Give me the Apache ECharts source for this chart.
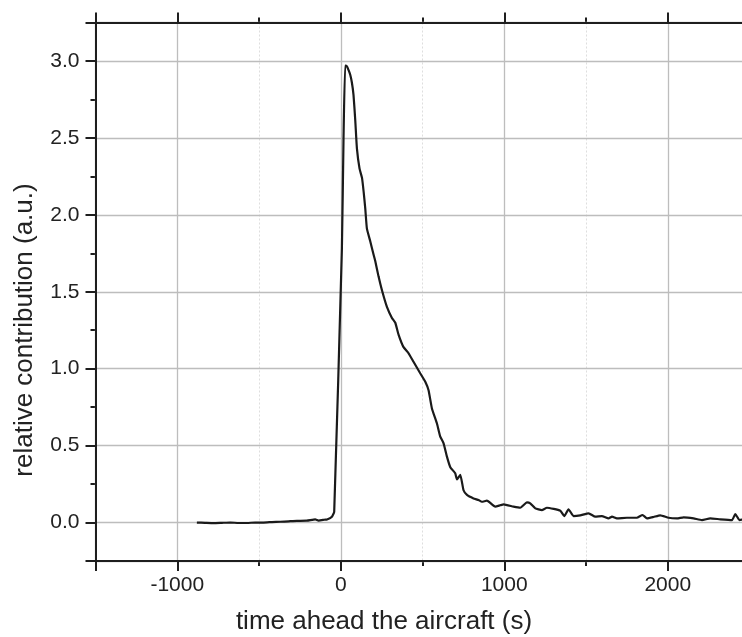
<!DOCTYPE html>
<html>
<head>
<meta charset="utf-8">
<script src="https://cdn.jsdelivr.net/npm/echarts@6/dist/echarts.min.js"></script>
<style>
html,body{margin:0;padding:0;background:#fff;}
#chart{width:742px;height:637px;}
</style>
</head>
<body>
<div id="chart"></div>
<script>
// time ahead the aircraft (s)
const times = [-880, -830, -778, -727, -676, -625, -574, -523, -472, -421, -370, -319, -268, -207, -156, -136, -100, -84, -54, -40,
  7, 17, 27, 38, 48, 58, 68, 78, 89, 99, 115, 130, 140, 150, 160, 180, 201, 211, 231, 252, 283, 313, 333, 354, 384, 415, 445,
  486, 517, 537, 558, 588, 608, 629, 649, 670, 700, 711, 731, 751, 772, 812, 843, 863, 894, 945, 975, 996, 1057, 1098, 1139,
  1159, 1190, 1230, 1261, 1343, 1367, 1393, 1424, 1465, 1516, 1557, 1597, 1638, 1659, 1689, 1750, 1811, 1846, 1873, 1913,
  1954, 2005, 2056, 2097, 2158, 2209, 2260, 2321, 2393, 2413, 2439, 2460];
// relative contribution (a.u.)
const contribution = [0.000, -0.002, -0.004, -0.002, 0.000, -0.003, -0.003, 0.000, 0.000, 0.003, 0.005, 0.008, 0.011, 0.012, 0.020, 0.013, 0.018, 0.020, 0.038, 0.07,
  1.78, 2.50, 2.97, 2.965, 2.94, 2.91, 2.86, 2.78, 2.61, 2.43, 2.30, 2.24, 2.15, 2.04, 1.91, 1.83, 1.74, 1.70, 1.60, 1.51, 1.40, 1.33, 1.30, 1.22, 1.14, 1.10, 1.045,
  0.97, 0.915, 0.86, 0.74, 0.645, 0.56, 0.515, 0.43, 0.36, 0.32, 0.28, 0.31, 0.21, 0.18, 0.157, 0.146, 0.135, 0.142, 0.103, 0.112, 0.118, 0.103, 0.096, 0.131,
  0.125, 0.092, 0.081, 0.096, 0.077, 0.042, 0.086, 0.042, 0.047, 0.060, 0.038, 0.042, 0.027, 0.038, 0.027, 0.031, 0.031, 0.049, 0.027, 0.036,
  0.047, 0.031, 0.027, 0.034, 0.027, 0.016, 0.027, 0.021, 0.016, 0.055, 0.016, 0.020];

const xRange = [-1500, 2500];
const yRange = [-0.25, 3.25];
const xTitle = 'time ahead the aircraft (s)';
const yTitle = 'relative contribution (a.u.)';

const FONT = '"Liberation Sans", Arial, sans-serif';
const TXT = '#222';
const AX = '#1e1e1e';

const chart = echarts.init(document.getElementById('chart'), null, {renderer: 'canvas'});

const data = times.map((t, i) => [t, contribution[i]]);

function baseX(extra) {
  return Object.assign({
    type: 'value', min: xRange[0], max: xRange[1],
    axisLine: {show: false, onZero: false}, axisLabel: {show: false}, splitLine: {show: false},
    axisTick: {show: false}
  }, extra);
}
function baseY(extra) {
  return Object.assign({
    type: 'value', min: yRange[0], max: yRange[1],
    axisLine: {show: false, onZero: false}, axisLabel: {show: false}, splitLine: {show: false},
    axisTick: {show: false}
  }, extra);
}

chart.setOption({
  animation: false,
  backgroundColor: '#fff',
  grid: {left: 95.5, top: 22.5, width: 654, height: 538.5, containLabel: false, outerBoundsMode: 'none'},
  xAxis: [
    baseX({ // bottom major
      position: 'bottom', splitNumber: 4, minInterval: 1000, maxInterval: 1000, z: 3,
      axisLine: {show: true, onZero: false, lineStyle: {color: AX, width: 2}},
      axisTick: {show: true, inside: false, length: 10, lineStyle: {color: AX, width: 2}},
      axisLabel: {show: true, margin: 14, color: TXT, fontSize: 21, fontFamily: FONT,
        formatter: v => (Math.round(v) % 1000 === 0 ? String(Math.round(v)) : '')},
      splitLine: {show: true, lineStyle: {color: '#bdbdbd', width: 1.3}}
    }),
    baseX({ // bottom minor
      position: 'bottom', interval: 500, z: 1,
      axisTick: {show: true, inside: false, length: 5, lineStyle: {color: AX, width: 2}},
      splitLine: {show: true, lineStyle: {color: '#dedede', width: 1, type: [2, 2]}}
    }),
    baseX({ // top major
      position: 'top', splitNumber: 4, minInterval: 1000, maxInterval: 1000, z: 3,
      axisLine: {show: true, onZero: false, lineStyle: {color: AX, width: 2}},
      axisTick: {show: true, inside: false, length: 10, lineStyle: {color: AX, width: 2}}
    }),
    baseX({ // top minor
      position: 'top', interval: 500, z: 1,
      axisTick: {show: true, inside: false, length: 5, lineStyle: {color: AX, width: 2}}
    })
  ],
  yAxis: [
    baseY({ // left major
      position: 'left', splitNumber: 7, minInterval: 0.5, maxInterval: 0.5, z: 3,
      axisLine: {show: true, onZero: false, lineStyle: {color: AX, width: 2}},
      axisTick: {show: true, inside: false, length: 10, lineStyle: {color: AX, width: 2}},
      axisLabel: {show: true, margin: 16, color: TXT, fontSize: 21, fontFamily: FONT,
        formatter: v => (Math.abs(v * 2 - Math.round(v * 2)) < 1e-6 && v > -0.1 ? v.toFixed(1) : '')},
      splitLine: {show: true, lineStyle: {color: '#bdbdbd', width: 1.3}}
    }),
    baseY({ // left minor
      position: 'left', interval: 0.25, z: 1,
      axisTick: {show: true, inside: false, length: 5, lineStyle: {color: AX, width: 2}}
    })
  ],
  series: [{
    type: 'line',
    xAxisIndex: 0, yAxisIndex: 0,
    data: data,
    showSymbol: false,
    smooth: 0.15,
    lineStyle: {color: '#1a1a1a', width: 2.2},
    z: 5
  }],
  graphic: [
    {type: 'text', x: 384, y: 622, z: 10,
      style: {text: xTitle, fill: TXT, font: '26px ' + FONT, align: 'center', verticalAlign: 'middle'}},
    {type: 'text', x: 25, y: 330, rotation: Math.PI / 2, z: 10,
      style: {text: yTitle, fill: TXT, font: '26px ' + FONT, align: 'center', verticalAlign: 'middle'}}
  ]
});
</script>
</body>
</html>
